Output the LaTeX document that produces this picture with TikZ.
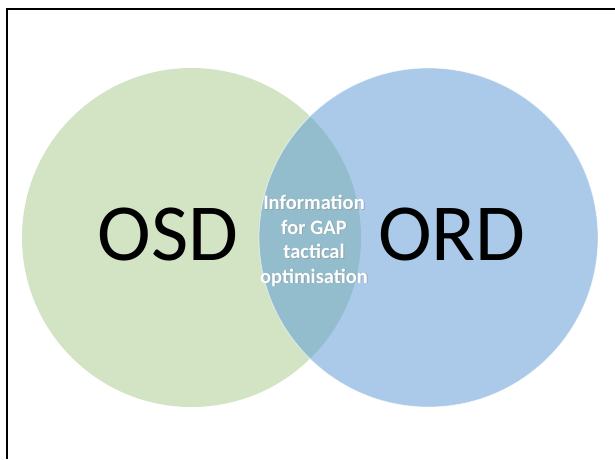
\documentclass[tikz,border=0pt]{standalone}
\usepackage{fontspec}
\setmainfont{Carlito}
\usepackage{tikz}
\usetikzlibrary{positioning}

\definecolor{osdgreen}{RGB}{210,228,196}
\definecolor{ordblue}{RGB}{171,201,232}
\definecolor{overlap}{RGB}{147,189,205}

\begin{document}
\begin{tikzpicture}[x=1pt,y=1pt,
				set node/.style={circle,minimum size=339pt,inner sep=0pt},
				big label/.style={font=\fontsize{81}{81}\selectfont,anchor=base},
				small label/.style={font=\fontsize{20.5}{24.5}\selectfont\bfseries,text=white,align=center}]
				
				\useasboundingbox (0,0) rectangle (615,459);
				\fill[white] (0,0) rectangle (615,459);
				
				% frame
				\draw[line width=2pt] (615,450) -- (7,450) -- (7,0);
				
				% the two sets
				\node[set node,fill=osdgreen] (osdset) at (191.5,221.5) {};
				\node[set node,fill=ordblue] (ordset) at (428.5,221.5) {};
				\begin{scope}
				\clip (osdset.center) circle (169.5);
				\fill[overlap] (ordset.center) circle (169.5);
				\end{scope}
				\draw[white,opacity=0.6,line width=0.8pt] (ordset.center) circle (169.5);
				
				\node[big label] (osd) at (168,199) {OSD};
				\node[big label] (ord) at (452,199) {ORD};
				\node[small label,text=black!45,opacity=0.5] (infoshadow) at (315,217.5) {Information\\for GAP\\tactical\\optimisation};
				\node[small label] (info) at (314,218) {Information\\for GAP\\tactical\\optimisation};
				
				\end{tikzpicture}
\end{document}
